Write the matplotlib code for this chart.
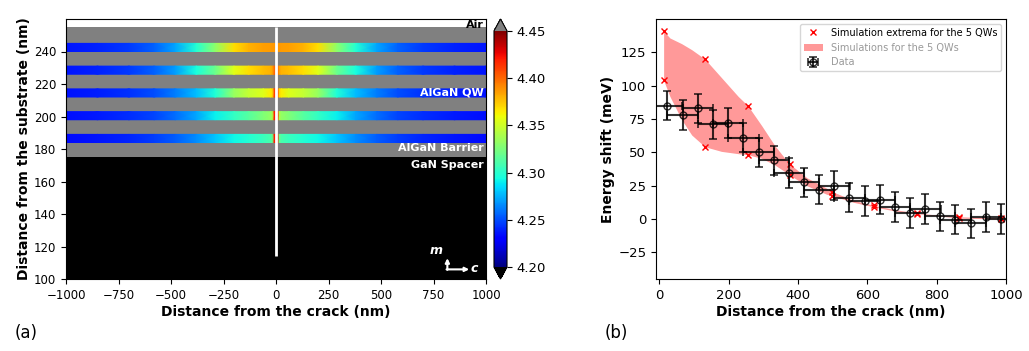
import matplotlib.pyplot as plt
import numpy as np
from matplotlib.colors import Normalize

plt.rcParams['font.family'] = 'DejaVu Sans'

# ---- (a) band gap in the 5 QWs (eV), symmetric about the crack ----
qw_x = [0, 8, 16, 25, 60, 130, 200, 290, 380, 480, 580, 700, 850, 1000]
gap_qw1 = [4.42, 4.42, 4.32, 4.31, 4.305, 4.298, 4.292, 4.28, 4.266, 4.254, 4.246, 4.241, 4.237, 4.234]
gap_qw2 = [4.42, 4.42, 4.34, 4.332, 4.326, 4.314, 4.303, 4.29, 4.272, 4.258, 4.248, 4.242, 4.238, 4.235]
gap_qw3 = [4.41, 4.41, 4.37, 4.365, 4.355, 4.347, 4.333, 4.297, 4.278, 4.262, 4.25, 4.243, 4.239, 4.236]
gap_qw4 = [4.40, 4.40, 4.385, 4.38, 4.377, 4.368, 4.356, 4.32, 4.295, 4.27, 4.255, 4.245, 4.24, 4.237]
gap_qw5 = [4.387, 4.387, 4.387, 4.386, 4.385, 4.38, 4.368, 4.33, 4.298, 4.272, 4.255, 4.245, 4.24, 4.237]
qw_bottom = [184, 198, 212, 226, 240]
qw_top = [189, 203, 217, 231, 245]
spacer_top = 175
barrier_top = 255
crack_bottom = 114

# ---- (b) energy shift vs distance ----
data_x = [22, 67, 111, 154, 198, 242, 286, 330, 374, 417, 460, 505,
          548, 592, 636, 679, 723, 767, 810, 854, 898, 942, 986]
data_y = [85, 78, 83, 71, 72, 61, 50, 44, 34.5, 27.5, 22, 25,
          16, 13.5, 14.5, 9, 4.5, 7.5, 2, -0.5, -3.3, 1.5, 0]
data_xerr = 44
data_yerr = 11

ext_x = [12, 12, 132, 132, 255, 255, 377, 377, 499, 499, 620, 620, 743, 743, 864, 864, 986, 986]
ext_y = [141, 104, 119.7, 54.2, 84.8, 48.2, 41, 32.7, 20, 17.5, 10.2, 9, 4.5, 4, 1.7, 0.7, 0.7, 0]

band_x = [12, 30, 64, 93, 131, 179, 227, 255, 295, 333, 362, 377,
          425, 483, 499, 560, 620, 680, 743, 800, 864, 930, 986]
band_hi = [141, 135.8, 131.5, 127, 120, 106, 92, 85, 70, 55, 45.5, 41,
           31, 23, 20.5, 14, 10.2, 7, 4.5, 3, 1.7, 1.1, 0.7]
band_lo = [104, 92, 74.5, 63, 54.2, 50.7, 49, 48.2, 45.5, 40.5, 35.5, 32.7,
           25, 18.5, 17.5, 12.5, 9, 6, 4, 2.5, 0.7, 0.3, 0]

fig = plt.figure(figsize=(10.29, 3.51), dpi=100)
ax1 = fig.add_axes([66/1029, 72/351, 420/1029, 260/351])
cax = fig.add_axes([494/1029, 72/351, 13/1029, 260/351])
ax2 = fig.add_axes([656/1029, 72/351, 350/1029, 260/351])

cmap = plt.get_cmap('jet').copy()
cmap.set_over('gray')
cmap.set_under('black')
norm = Normalize(vmin=4.2, vmax=4.45)

ax1.axhspan(100, spacer_top, color='black', lw=0)
ax1.axhspan(spacer_top, barrier_top, color='gray', lw=0)

xs = np.array(qw_x)
x_full = np.concatenate([-xs[::-1], xs[1:]])
mesh = None
for gap, yb, yt in zip([gap_qw1, gap_qw2, gap_qw3, gap_qw4, gap_qw5], qw_bottom, qw_top):
    g = np.array(gap)
    g_full = np.concatenate([g[::-1], g[1:]])
    X = np.vstack([x_full, x_full])
    Y = np.vstack([np.full_like(x_full, yb, dtype=float), np.full_like(x_full, yt, dtype=float)])
    C = np.vstack([g_full, g_full])
    mesh = ax1.pcolormesh(X, Y, C, shading='gouraud', cmap=cmap, norm=norm)

ax1.vlines(0, crack_bottom, barrier_top, color='white', lw=2)

ax1.set_xlim(-1000, 1000)
ax1.set_ylim(100, 260)
ax1.set_xticks(np.arange(-1000, 1001, 250))
ax1.set_yticks(np.arange(100, 241, 20))
ax1.tick_params(labelsize=8.5)
ax1.set_xlabel('Distance from the crack (nm)', fontsize=10, fontweight='bold', labelpad=2)
ax1.set_ylabel('Distance from the substrate (nm)', fontsize=10, fontweight='bold', labelpad=2)

ax1.text(0.995, 0.977, 'Air', transform=ax1.transAxes, ha='right', va='center',
         fontsize=8, fontweight='bold', color='black')
ax1.text(0.995, 0.719, 'AlGaN QW', transform=ax1.transAxes, ha='right', va='center',
         fontsize=8, fontweight='bold', color='white')
ax1.text(0.995, 0.503, 'AlGaN Barrier', transform=ax1.transAxes, ha='right', va='center',
         fontsize=8, fontweight='bold', color='white')
ax1.text(0.995, 0.438, 'GaN Spacer', transform=ax1.transAxes, ha='right', va='center',
         fontsize=8, fontweight='bold', color='white')

arrow = dict(arrowstyle='-|>', color='white', lw=1.5, mutation_scale=6, shrinkA=0, shrinkB=0)
ax1.annotate('', xy=(0.908, 0.08), xytext=(0.908, 0.035), xycoords='axes fraction', arrowprops=arrow)
ax1.annotate('', xy=(0.96, 0.037), xytext=(0.906, 0.037), xycoords='axes fraction', arrowprops=arrow)
ax1.text(0.881, 0.108, 'm', transform=ax1.transAxes, ha='center', va='center',
         fontsize=9, fontweight='bold', fontstyle='italic', color='white')
ax1.text(0.973, 0.042, 'c', transform=ax1.transAxes, ha='center', va='center',
         fontsize=9, fontweight='bold', fontstyle='italic', color='white')

cb = fig.colorbar(mesh, cax=cax, extend='both')
cb.set_ticks([4.20, 4.25, 4.30, 4.35, 4.40, 4.45])
cb.ax.tick_params(labelsize=9.5)

# ---- (b) ----
ax2.fill_between(band_x, band_lo, band_hi, color='red', alpha=0.4, lw=0,
                 label='Simulations for the 5 QWs')
ax2.plot(ext_x, ext_y, 'x', color='red', ms=5, mew=1, label='Simulation extrema for the 5 QWs')
ax2.errorbar(data_x, data_y, xerr=data_xerr, yerr=data_yerr, fmt='o', color='black',
             mfc='none', ms=5, elinewidth=1.5, capsize=3, capthick=1.2, alpha=0.8, label='Data')
ax2.set_xlim(-10, 1000)
ax2.set_ylim(-45, 150)
ax2.set_yticks([-25, 0, 25, 50, 75, 100, 125])
ax2.tick_params(labelsize=9.5)
ax2.set_xlabel('Distance from the crack (nm)', fontsize=10, fontweight='bold', labelpad=2)
ax2.set_ylabel('Energy shift (meV)', fontsize=10, fontweight='bold', labelpad=2)

h, l = ax2.get_legend_handles_labels()
order = [l.index('Simulation extrema for the 5 QWs'), l.index('Simulations for the 5 QWs'), l.index('Data')]
leg = ax2.legend([h[i] for i in order], [l[i] for i in order], loc='upper right', fontsize=7)
for t in leg.get_texts()[1:]:
    t.set_color('#999999')

fig.text(15/1029, 1 - 333/351, '(a)', fontsize=12, va='center')
fig.text(605/1029, 1 - 333/351, '(b)', fontsize=12, va='center')

fig.savefig('out.png', dpi=100)
